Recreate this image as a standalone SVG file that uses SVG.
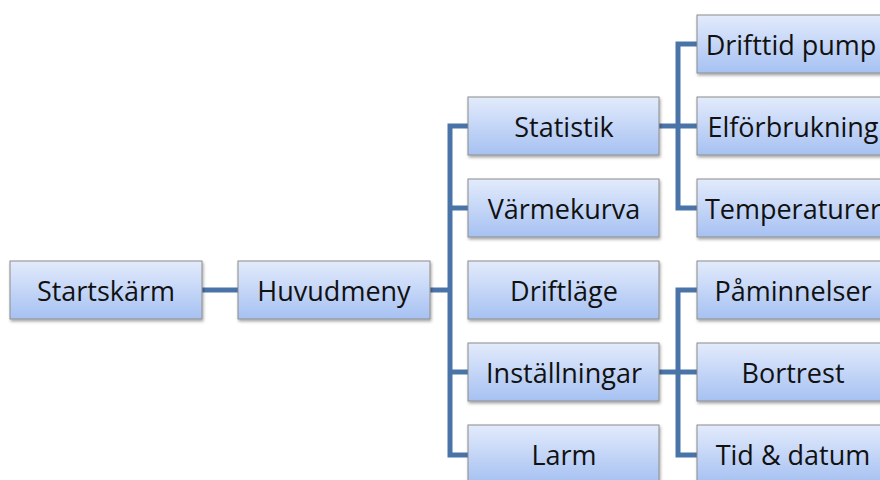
<svg xmlns="http://www.w3.org/2000/svg" width="880" height="480" viewBox="0 0 880 480">
<defs>
<linearGradient id="g" x1="0" y1="0" x2="0" y2="1">
<stop offset="0" stop-color="#e3ebfc"/>
<stop offset="1" stop-color="#a6c1f2"/>
</linearGradient>
<filter id="sh" x="-10%" y="-10%" width="130%" height="140%">
<feDropShadow dx="1" dy="2" stdDeviation="1.5" flood-color="#000" flood-opacity="0.35"/>
</filter>
</defs>
<style>
.box{fill:url(#g);stroke:#8c8c8c;stroke-width:1;filter:url(#sh)}
.t{font-family:"Open Sans","Liberation Sans",sans-serif;font-size:27px;fill:#111;text-anchor:middle}
.c{fill:none;stroke:#4a74a8;stroke-width:5}
</style>
<rect width="880" height="480" fill="#fff"/>
<g id="connectors">
<path class="c" d="M202 290H238"/>
<path class="c" d="M430 290H450"/>
<path class="c" d="M468 126H450V455H468"/>
<path class="c" d="M450 208H468M450 372H468"/>
<path class="c" d="M659 126H678"/>
<path class="c" d="M697 44H678V208H697M678 126H697"/>
<path class="c" d="M659 372H678"/>
<path class="c" d="M697 290H678V455H697M678 372H697"/>
</g>
<g id="n-start"><rect class="box" x="10" y="261" width="192" height="58"/><text class="t" x="106" y="301">Startskärm</text></g>
<g id="n-huvud"><rect class="box" x="238" y="261" width="192" height="58"/><text class="t" x="334" y="301">Huvudmeny</text></g>
<g id="n-stat"><rect class="box" x="468" y="97" width="191" height="58"/><text class="t" x="564" y="137">Statistik</text></g>
<g id="n-varme"><rect class="box" x="468" y="179" width="191" height="58"/><text class="t" x="564" y="219">Värmekurva</text></g>
<g id="n-drift"><rect class="box" x="468" y="261" width="191" height="58"/><text class="t" x="564" y="301">Driftläge</text></g>
<g id="n-inst"><rect class="box" x="468" y="343" width="191" height="58"/><text class="t" x="564" y="383">Inställningar</text></g>
<g id="n-larm"><rect class="box" x="468" y="425" width="191" height="58"/><text class="t" x="564" y="465">Larm</text></g>
<g id="n-drifttid"><rect class="box" x="697" y="15" width="192" height="58"/><text class="t" x="791" y="55">Drifttid pump</text></g>
<g id="n-elf"><rect class="box" x="697" y="97" width="192" height="58"/><text class="t" x="793" y="137">Elförbrukning</text></g>
<g id="n-temp"><rect class="box" x="697" y="179" width="192" height="58"/><text class="t" x="793" y="219">Temperaturer</text></g>
<g id="n-pamin"><rect class="box" x="697" y="261" width="192" height="58"/><text class="t" x="793" y="301">Påminnelser</text></g>
<g id="n-bort"><rect class="box" x="697" y="343" width="192" height="58"/><text class="t" x="793" y="383">Bortrest</text></g>
<g id="n-tid"><rect class="box" x="697" y="425" width="192" height="58"/><text class="t" x="793" y="465">Tid &amp; datum</text></g>
</svg>
